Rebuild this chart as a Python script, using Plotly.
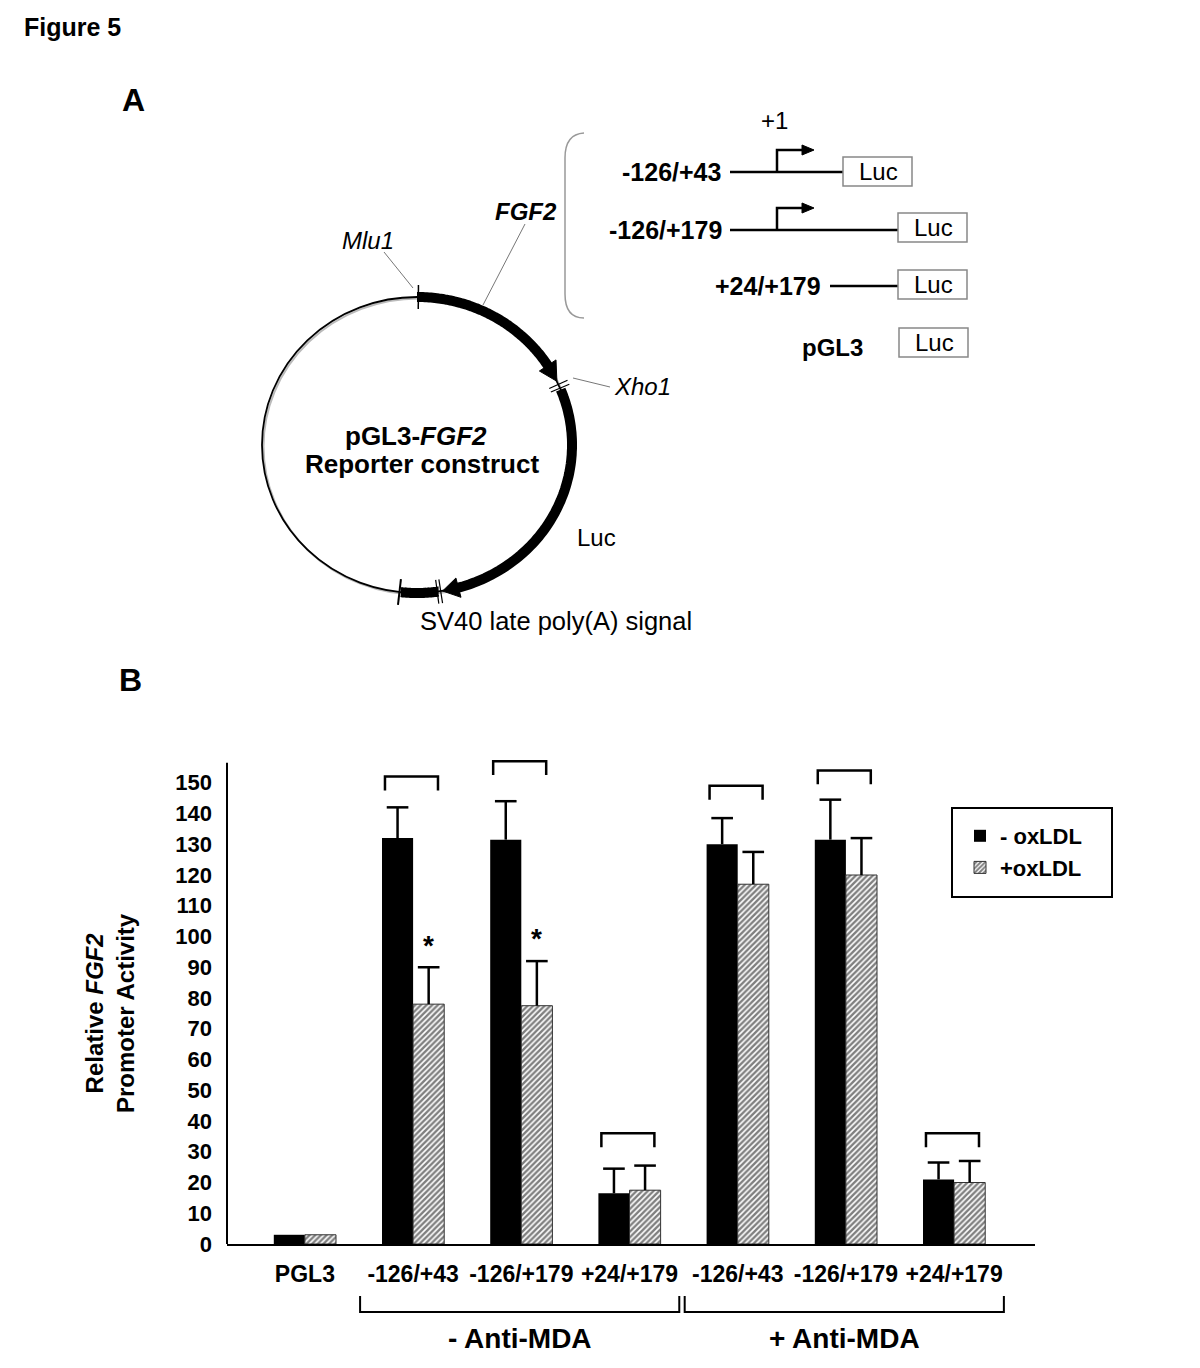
import numpy as np
import plotly.graph_objects as go

# ---------------- data (panel B) ----------------
categories = ["PGL3", "-126/+43", "-126/+179", "+24/+179", "-126/+43", "-126/+179", "+24/+179"]
minus_oxldl = [3, 132, 131.5, 16.5, 130, 131.5, 21]
minus_oxldl_err = [0, 10, 12.5, 8, 8.5, 13, 5.5]
plus_oxldl = [3, 78, 77.5, 17.5, 117, 120, 20]
plus_oxldl_err = [0, 12, 14.5, 8, 10.5, 12, 7]
significant = [False, True, True, False, False, False, False]
bracket_groups = [1, 2, 3, 4, 5, 6]
bracket_tops = [152, 157, 36, 149, 154, 36]
group_labels = ["- Anti-MDA", "+ Anti-MDA"]
group_first = [1, 4]
group_last = [3, 6]
series_names = ["- oxLDL", "+oxLDL"]
y_ticks = list(range(0, 151, 10))

FONT = "Arial, Liberation Sans, sans-serif"
W, H = 1200, 1368
BARGAP = 0.425
XR = [-0.72, 6.75]
YR = [0, 160]


def py(y):
    return 1 - y / H


fig = go.Figure()
xs = list(range(len(categories)))

fig.add_trace(go.Bar(
    x=xs, y=minus_oxldl, name=series_names[0],
    marker=dict(color="black", line=dict(width=0)),
))
fig.add_trace(go.Bar(
    x=xs, y=plus_oxldl, name=series_names[1],
    marker=dict(color="white", line=dict(width=1, color="#333"),
                pattern=dict(shape="/", size=4, solidity=0.6,
                             fgcolor="black", bgcolor="white")),
))

# error bars (upper only) built from the data
half = (1 - BARGAP) / 4
capw = 0.1
ex, ey = [], []
for vals, errs, sgn in [(minus_oxldl, minus_oxldl_err, -1), (plus_oxldl, plus_oxldl_err, 1)]:
    for i, (v, e) in enumerate(zip(vals, errs)):
        if e <= 0:
            continue
        xc = i + sgn * half
        ex += [xc, xc, None, xc - capw, xc + capw, None]
        ey += [v, v + e, None, v + e, v + e, None]
fig.add_trace(go.Scatter(x=ex, y=ey, mode="lines", line=dict(color="black", width=2.5),
                         showlegend=False, hoverinfo="skip"))

shapes = []
annotations = []

# y-axis line
shapes.append(dict(type="line", xref="x domain", yref="y", x0=0, x1=0, y0=0, y1=156.5,
                   line=dict(color="black", width=2)))

# comparison brackets
for g, top in zip(bracket_groups, bracket_tops):
    x0, x1 = g - 0.26, g + 0.23
    shapes.append(dict(type="path", xref="x", yref="y",
                       path=f"M {x0},{top-4.5} L {x0},{top} L {x1},{top} L {x1},{top-4.5}",
                       line=dict(color="black", width=2.5)))

# significance stars
for i, s in enumerate(significant):
    if s:
        annotations.append(dict(x=i + half, y=plus_oxldl[i] + plus_oxldl_err[i] + 1.5,
                                xref="x", yref="y", text="<b>*</b>", showarrow=False,
                                yanchor="bottom", font=dict(size=28, family=FONT, color="black")))

# group brackets under x axis
for lab, a, b in zip(group_labels, group_first, group_last):
    x0, x1 = a - 0.49, b + 0.46
    shapes.append(dict(type="path", xref="x", yref="paper",
                       path=f"M {x0},{py(1296)} L {x0},{py(1312)} L {x1},{py(1312)} L {x1},{py(1296)}",
                       line=dict(color="black", width=2)))
    annotations.append(dict(x=(x0 + x1) / 2, y=py(1338), xref="x", yref="paper",
                            text=f"<b>{lab}</b>", showarrow=False, yanchor="middle",
                            font=dict(size=28, family=FONT, color="black")))

# y-axis title
annotations.append(dict(x=110, y=1013, xref="x2", yref="y2", textangle=-90,
                        text="<b>Relative <i>FGF2</i></b><br><b>Promoter Activity</b>",
                        showarrow=False, font=dict(size=24, family=FONT, color="black")))

# legend box
shapes.append(dict(type="rect", xref="x2", yref="y2", x0=952, x1=1112, y0=808, y1=897,
                   line=dict(color="black", width=2)))

# ---------------- panel A (diagram, pixel coordinates on hidden axes) ----------------
cx, cy, rx, ry = 417, 445, 155, 148


def ept(t, dr=0.0):
    tr = np.radians(t)
    return cx + (rx + dr) * np.cos(tr), cy - (ry + dr) * np.sin(tr)


def arc_path(t0, t1, n=80):
    pts = [ept(t) for t in np.linspace(t0, t1, n)]
    return "M " + " L ".join(f"{x:.1f},{y:.1f}" for x, y in pts)


def head_path(tb, tt, hw):
    bx, by = ept(tb)
    tr = np.radians(tb)
    nx, ny = np.cos(tr) / rx, -np.sin(tr) / ry
    nn = np.hypot(nx, ny)
    nx, ny = nx / nn, ny / nn
    tx, ty = ept(tt)
    return (f"M {bx+nx*hw:.1f},{by+ny*hw:.1f} L {tx:.1f},{ty:.1f} "
            f"L {bx-nx*hw:.1f},{by-ny*hw:.1f} Z")


def tick(t, L=11, w=1.5, color="black"):
    x0, y0 = ept(t, -L)
    x1, y1 = ept(t, L)
    shapes.append(dict(type="line", xref="x2", yref="y2", x0=x0, y0=y0, x1=x1, y1=y1,
                       line=dict(color=color, width=w)))


# plasmid circle (soft gray shadow + black line)
shapes.append(dict(type="circle", xref="x2", yref="y2", x0=cx - rx + 1.5, x1=cx + rx + 1.5,
                   y0=cy - ry + 1.5, y1=cy + ry + 1.5, line=dict(color="#bbb", width=2)))
shapes.append(dict(type="circle", xref="x2", yref="y2", x0=cx - rx, x1=cx + rx,
                   y0=cy - ry, y1=cy + ry, line=dict(color="black", width=1.8)))
# thick arcs
for t0, t1 in [(90, 32), (22, -75), (-82, -96)]:
    shapes.append(dict(type="path", xref="x2", yref="y2", path=arc_path(t0, t1),
                       line=dict(color="black", width=10)))
# arrow heads
for tb, tt in [(32.5, 25.5), (-74.5, -80.5)]:
    shapes.append(dict(type="path", xref="x2", yref="y2", path=head_path(tb, tt, 10),
                       fillcolor="black", line=dict(color="black", width=1)))
# restriction site ticks
tick(89.5, 12)
tick(24.2, 10, 1.2)
tick(22.6, 10, 1.2)
tick(-81.2, 12, 1.2)
tick(-82.5, 12, 1.2)
tick(-96.5, 13, 2)

# leader lines
for x0, y0, x1, y1 in [(384, 252, 413, 288), (525, 224, 483, 305), (573, 378, 610, 387)]:
    shapes.append(dict(type="line", xref="x2", yref="y2", x0=x0, y0=y0, x1=x1, y1=y1,
                       line=dict(color="#777", width=1)))

# round bracket
shapes.append(dict(type="path", xref="x2", yref="y2",
                   path="M 584,133 Q 565,134 565,158 L 565,294 Q 565,318 584,318",
                   line=dict(color="#999", width=1.5)))

# constructs
construct_lines = [(730, 843, 172), (730, 898, 230), (830, 898, 286)]
for x0, x1, y in construct_lines:
    shapes.append(dict(type="line", xref="x2", yref="y2", x0=x0, x1=x1, y0=y, y1=y,
                       line=dict(color="black", width=2.5)))
for y in [172, 230]:
    shapes.append(dict(type="path", xref="x2", yref="y2",
                       path=f"M 777,{y} L 777,{y-22} L 804,{y-22}",
                       line=dict(color="black", width=2.5)))
    shapes.append(dict(type="path", xref="x2", yref="y2",
                       path=f"M 802,{y-27} L 814,{y-22} L 802,{y-17} Z",
                       fillcolor="black", line=dict(color="black", width=1)))
luc_boxes = [(843, 912, 157, 186), (898, 967, 213, 242), (898, 967, 270, 299), (899, 968, 328, 357)]
for x0, x1, y0, y1 in luc_boxes:
    shapes.append(dict(type="rect", xref="x2", yref="y2", x0=x0, x1=x1, y0=y0, y1=y1,
                       line=dict(color="#888", width=1.5), fillcolor="white"))
    annotations.append(dict(x=(x0 + x1) / 2 + 1, y=(y0 + y1) / 2, xref="x2", yref="y2", text="Luc",
                            showarrow=False, font=dict(size=24, family=FONT, color="black")))

texts_A = [
    ("<b>Figure 5</b>", 22, 27, 25, "left"),
    ("<b>A</b>", 133, 100, 32, "center"),
    ("<b>B</b>", 130, 680, 32, "center"),
    ("<i>Mlu1</i>", 368, 240, 24, "center"),
    ("<b><i>FGF2</i></b>", 526, 211, 24, "center"),
    ("<i>Xho1</i>", 612, 386, 24, "left"),
    ("Luc", 596, 537, 24, "center"),
    ("SV40 late poly(A) signal", 556, 621, 25.5, "center"),
    ("<b>pGL3-<i>FGF2</i></b>", 416, 436, 26, "center"),
    ("<b>Reporter construct</b>", 422, 464, 26, "center"),
    ("+1", 774, 120, 24, "center"),
    ("<b>-126/+43</b>", 723, 172, 25, "right"),
    ("<b>-126/+179</b>", 724, 230, 25, "right"),
    ("<b>+24/+179</b>", 823, 286, 25, "right"),
    ("<b>pGL3</b>", 832, 347, 24, "center"),
]
for txt, x, y, sz, anc in texts_A:
    annotations.append(dict(x=x, y=y, xref="x2", yref="y2", text=txt, showarrow=False,
                            xanchor=anc, yanchor="middle",
                            font=dict(size=sz, family=FONT, color="black")))

x_dom = [227 / W, (227 + (XR[1] - XR[0]) * 108.2) / W]
y_dom = [py(1244), py(1244 - (YR[1] - YR[0]) * 3.075)]

fig.update_layout(
    width=W, height=H,
    margin=dict(l=0, r=0, t=0, b=0),
    paper_bgcolor="white", plot_bgcolor="rgba(0,0,0,0)",
    barmode="group", bargap=BARGAP, bargroupgap=0,
    font=dict(family=FONT, color="black"),
    xaxis=dict(domain=x_dom, range=XR, tickvals=xs, ticktext=categories, ticks="",
               showline=True, linecolor="black", linewidth=2, showgrid=False, zeroline=False,
               tickfont=dict(size=23, family=FONT, weight="bold", color="black"),
               ticklabelstandoff=8, automargin=False, anchor="y"),
    yaxis=dict(domain=y_dom, range=YR, tickvals=y_ticks, ticks="", showline=False,
               showgrid=False, zeroline=False,
               tickfont=dict(size=22, family=FONT, weight="bold", color="black"),
               ticklabelstandoff=14, automargin=False, anchor="x"),
    xaxis2=dict(domain=[0, 1], range=[0, W], visible=False, anchor="y2", fixedrange=True),
    yaxis2=dict(domain=[0, 1], range=[H, 0], visible=False, anchor="x2", fixedrange=True),
    legend=dict(x=960 / W, y=py(815), xanchor="left", yanchor="top",
                bgcolor="rgba(0,0,0,0)", borderwidth=0,
                font=dict(size=22, family=FONT, weight="bold", color="black")),
    shapes=shapes, annotations=annotations,
    showlegend=True,
)
# invisible trace so that the pixel axes exist
fig.add_trace(go.Scatter(x=[0], y=[0], xaxis="x2", yaxis="y2", mode="markers",
                         marker=dict(opacity=0), showlegend=False, hoverinfo="skip"))

fig.write_html("out.html", config={"displayModeBar": False},
               post_script="document.body.style.margin='0px';")
